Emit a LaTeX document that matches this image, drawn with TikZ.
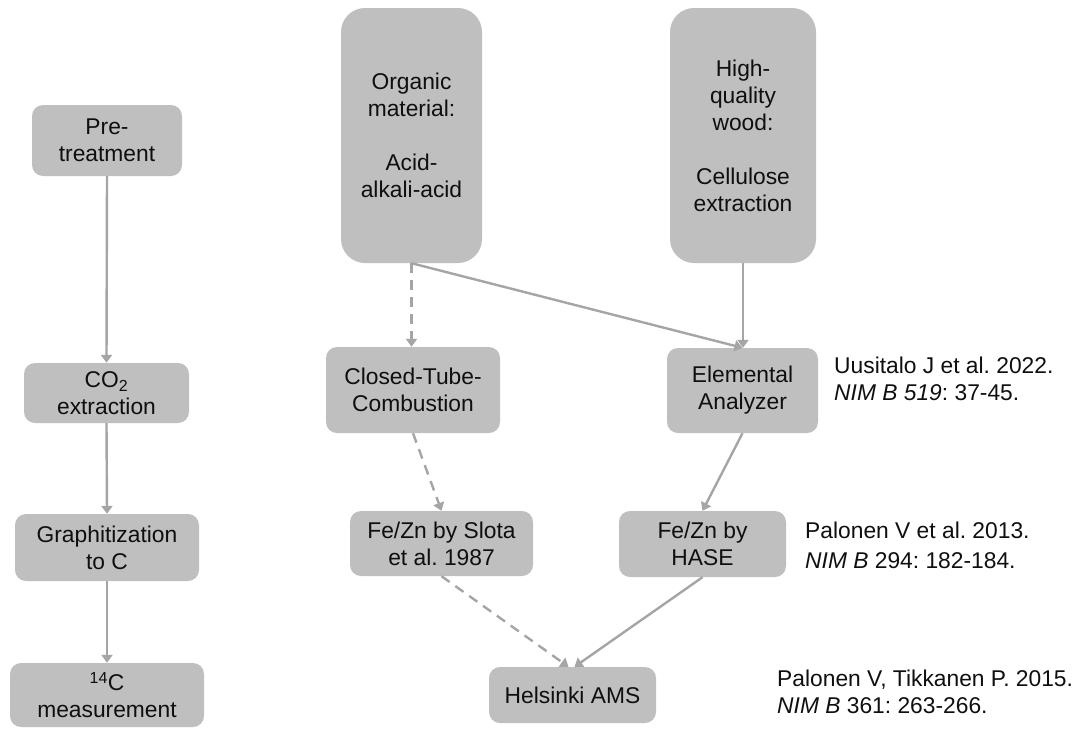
\documentclass[tikz,border=0pt]{standalone}
\usepackage{fontspec}
\setmainfont{Liberation Sans}
\usetikzlibrary{arrows.meta}
\definecolor{boxgray}{RGB}{191,191,191}
\definecolor{linegray}{RGB}{165,165,165}
\definecolor{txt}{RGB}{15,15,15}
\begin{document}
\frenchspacing
\begin{tikzpicture}[x=1pt,y=-1pt,
  box/.style={fill=boxgray,draw=none,rounded corners=11pt,inner sep=0pt,align=center,text=txt,
    font=\fontsize{22.8}{27}\selectfont},
  bigbox/.style={box,rounded corners=24pt},
  conn/.style={draw=linegray,line width=2.4pt,-{Triangle[length=8pt,width=11pt]}},
  dconn/.style={conn,dash pattern=on 10pt off 7pt},
  ref/.style={anchor=west,align=left,text=txt,inner sep=0pt,font=\fontsize{22.8}{27}\selectfont}
]
\useasboundingbox (0,0) rectangle (1075,729);
% left column
\node[box,minimum width=150pt,minimum height=71pt] (pre) at (107,140.5) {Pre-\\treatment};
\node[box,minimum width=165pt,minimum height=60pt] (co2) at (106.5,393) {CO\textsubscript{2}\\extraction};
\node[box,minimum width=184pt,minimum height=67pt] (gra) at (107,547.5) {Graphitization\\to C};
\node[box,minimum width=194pt,minimum height=64pt] (msr) at (107,695) {\textsuperscript{14}C\\measurement};
% right part
\node[bigbox,minimum width=141pt,minimum height=255pt] (org) at (411.5,135.5) {Organic\\material:\\[27pt]Acid-\\alkali-acid};
\node[bigbox,minimum width=146pt,minimum height=255pt] (wood) at (743,135.5) {High-\\quality\\wood:\\[27pt]Cellulose\\extraction};
\node[box,minimum width=174pt,minimum height=86pt] (ctc) at (413,390) {Closed-Tube-\\Combustion};
\node[box,minimum width=151pt,minimum height=85pt] (ea) at (742.5,390.5) {Elemental\\Analyzer};
\node[box,minimum width=183pt,minimum height=65pt] (slota) at (441.5,543.5) {Fe/Zn by Slota\\et al. 1987};
\node[box,minimum width=167pt,minimum height=66pt] (hase) at (702.5,544) {Fe/Zn by\\HASE};
\node[box,minimum width=167pt,minimum height=56pt] (ams) at (572.5,695) {Helsinki AMS};
% references
\node[ref] (r1) at (834,378.5) {Uusitalo J et al. 2022.\\\textit{NIM B 519}: 37-45.};
\node[ref] (r2) at (805,545) {Palonen V et al. 2013.\\[3pt]\textit{NIM B} 294: 182-184.};
\node[ref] (r3) at (777,691.5) {Palonen V, Tikkanen P. 2015.\\\textit{NIM B} 361: 263-266.};
% connectors
\draw[conn] (pre.south) -- (co2.north);
\draw[conn] (co2.south) -- (gra.north);
\draw[conn] (gra.south) -- (msr.north);
\draw[dconn] (org.south) -- (ctc.north -| org.south);
\draw[conn] (org.south) -- (ea.north);
\draw[conn] (wood.south) -- (ea.north -| wood.south);
\draw[dconn] (ctc.south) -- (slota.north);
\draw[conn] (ea.south) -- (hase.north);
\draw[dconn] (slota.south) -- ([xshift=-4pt]ams.north);
\draw[conn] (hase.south) -- ([xshift=2pt]ams.north);
\end{tikzpicture}
\end{document}
